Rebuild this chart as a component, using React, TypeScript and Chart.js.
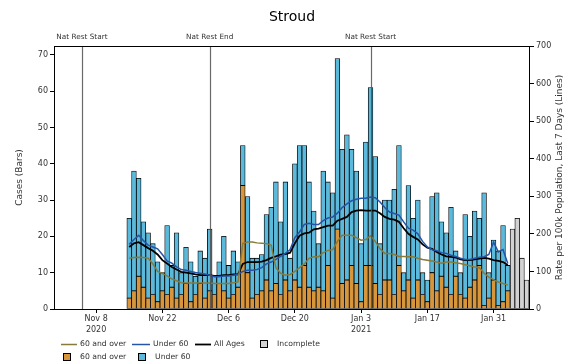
import React, { useEffect, useRef } from 'react';
import { Chart, registerables } from 'chart.js';

Chart.register(...registerables);

const TITLE = 'Stroud';
const LEFT_TITLE = 'Cases (Bars)';
const RIGHT_TITLE = 'Rate per 100k Population, Last 7 Days (Lines)';

const dates: string[] = [
  '2020-11-15', '2020-11-16', '2020-11-17', '2020-11-18', '2020-11-19', '2020-11-20', '2020-11-21', '2020-11-22',
  '2020-11-23', '2020-11-24', '2020-11-25', '2020-11-26', '2020-11-27', '2020-11-28', '2020-11-29', '2020-11-30',
  '2020-12-01', '2020-12-02', '2020-12-03', '2020-12-04', '2020-12-05', '2020-12-06', '2020-12-07', '2020-12-08',
  '2020-12-09', '2020-12-10', '2020-12-11', '2020-12-12', '2020-12-13', '2020-12-14', '2020-12-15', '2020-12-16',
  '2020-12-17', '2020-12-18', '2020-12-19', '2020-12-20', '2020-12-21', '2020-12-22', '2020-12-23', '2020-12-24',
  '2020-12-25', '2020-12-26', '2020-12-27', '2020-12-28', '2020-12-29', '2020-12-30', '2020-12-31',
  '2021-01-01', '2021-01-02', '2021-01-03', '2021-01-04', '2021-01-05', '2021-01-06', '2021-01-07', '2021-01-08',
  '2021-01-09', '2021-01-10', '2021-01-11', '2021-01-12', '2021-01-13', '2021-01-14', '2021-01-15', '2021-01-16',
  '2021-01-17', '2021-01-18', '2021-01-19', '2021-01-20', '2021-01-21', '2021-01-22', '2021-01-23', '2021-01-24',
  '2021-01-25', '2021-01-26', '2021-01-27', '2021-01-28', '2021-01-29', '2021-01-30', '2021-01-31',
  '2021-02-01', '2021-02-02', '2021-02-03',
];

const incompleteDates: string[] = ['2021-02-04', '2021-02-05', '2021-02-06', '2021-02-07'];
const incompleteCases: number[] = [22, 25, 14, 8];

const casesOver60: number[] = [
  3, 5, 9, 6, 3, 4, 2, 5, 4, 6, 3, 4, 7, 2, 4, 7,
  3, 5, 4, 7, 5, 3, 4, 6, 34, 10, 3, 4, 5, 8, 5, 7, 4, 8, 5, 8, 6, 12, 6, 5, 6, 5, 12, 3, 22, 7, 8,
  12, 7, 2, 12, 12, 7, 4, 8, 8, 4, 12, 5, 8, 3, 8, 4, 2, 10, 5, 9, 6, 4, 9, 4, 3, 6, 8, 12, 1, 3, 8,
  1, 2, 5,
];

const casesUnder60: number[] = [
  22, 33, 27, 18, 18, 14, 11, 5, 19, 6, 18, 6, 10, 11, 5, 9,
  11, 17, 5, 6, 15, 9, 12, 7, 11, 21, 11, 10, 10, 18, 23, 28, 20, 27, 9, 32, 39, 33, 29, 22, 12, 33, 23, 29, 47, 37, 40,
  32, 31, 16, 34, 49, 35, 14, 22, 22, 29, 33, 5, 26, 22, 22, 6, 6, 21, 27, 15, 15, 24, 7, 6, 23, 14, 19, 13, 31, 7, 11,
  15, 21, 7,
];

const rateOver60: number[] = [
  135, 137, 138, 137, 135, 120, 100, 95, 88, 80, 75, 70, 69, 69, 69, 69,
  69, 69, 68, 68, 68, 68, 70, 72, 175, 178, 178, 176, 175, 174, 170, 110, 95, 90, 92, 100, 110, 120, 135, 139, 139, 150, 156, 158, 180, 196, 196,
  196, 190, 183, 185, 195, 180, 160, 148, 148, 145, 140, 140, 139, 139, 135, 132, 130, 128, 125, 122, 125, 125, 123, 121, 118, 115, 112, 110, 95, 85, 78,
  72, 68, 64,
];

const rateUnder60: number[] = [
  172, 185, 196, 182, 170, 165, 160, 145, 128, 122, 112, 105, 103, 100, 97, 95,
  93, 90, 86, 86, 88, 88, 90, 92, 100, 103, 103, 105, 110, 120, 125, 132, 140, 148, 158, 190, 205, 225, 228, 225, 225, 235, 242, 245, 255, 270, 280,
  288, 292, 295, 295, 298, 296, 285, 270, 258, 254, 250, 232, 215, 210, 200, 180, 165, 158, 155, 150, 148, 143, 140, 135, 132, 132, 135, 138, 139, 145, 178,
  152, 158, 121,
];

const rateAll: number[] = [
  165, 175, 178, 170, 162, 155, 145, 130, 121, 112, 105, 99, 97, 95, 92, 90,
  90, 90, 88, 88, 90, 90, 92, 92, 120, 125, 125, 125, 126, 130, 136, 140, 145, 146, 150, 175, 195, 201, 203, 212, 214, 218, 222, 222, 235, 240, 245,
  258, 262, 263, 262, 262, 262, 255, 245, 240, 238, 232, 215, 200, 192, 185, 172, 163, 160, 152, 145, 140, 139, 137, 132, 130, 130, 132, 134, 136, 134, 130,
  128, 125, 117,
];

const tickDates: string[] = ['2020-11-08', '2020-11-22', '2020-12-06', '2020-12-20', '2021-01-03', '2021-01-17', '2021-01-31'];
const tickLabels: (string | string[])[] = [['Nov 8', '2020'], 'Nov 22', 'Dec 6', 'Dec 20', ['Jan 3', '2021'], 'Jan 17', 'Jan 31'];

const leftTicks: number[] = [0, 10, 20, 30, 40, 50, 60, 70];
const rightTicks: number[] = [0, 100, 200, 300, 400, 500, 600, 700];

const eventDates: string[] = ['2020-11-05', '2020-12-02', '2021-01-05'];
const eventLabels: string[] = ['Nat Rest Start', 'Nat Rest End', 'Nat Rest Start'];

const EPOCH = Date.UTC(2020, 10, 5);
const dayNum = (s: string) => {
  const [y, m, d] = s.split('-').map(Number);
  return (Date.UTC(y, m - 1, d) - EPOCH) / 86400000;
};

const FONT = '"DejaVu Sans", sans-serif';
const ORANGE = '#d8963c';
const BLUE_BAR = '#5bb9db';
const GREY_BAR = '#d2d2d2';
const OLIVE = '#877b3c';
const BLUE_LINE = '#2455a8';
const TEXT = '#333333';

export default function App() {
  const ref = useRef<HTMLCanvasElement>(null);

  useEffect(() => {
    const canvas = ref.current;
    if (!canvas) return;
    const xs = dates.map(dayNum);
    const xi = incompleteDates.map(dayNum);
    const pts = (vals: number[], x: number[]) => vals.map((v, i) => ({ x: x[i], y: v }));

    const overlay = {
      id: 'overlay',
      afterDatasetsDraw(chart: any) {
        const { ctx, chartArea } = chart;
        const xScale = chart.scales.x;
        ctx.save();
        ctx.strokeStyle = 'rgba(80,80,80,0.85)';
        ctx.lineWidth = 1.2;
        eventDates.forEach((d) => {
          const px = Math.round(xScale.getPixelForValue(dayNum(d))) + 0.5;
          ctx.beginPath();
          ctx.moveTo(px, chartArea.top);
          ctx.lineTo(px, chartArea.bottom);
          ctx.stroke();
        });
        ctx.strokeStyle = '#000';
        ctx.lineWidth = 1;
        ctx.strokeRect(chartArea.left + 0.5, chartArea.top + 0.5, chartArea.right - chartArea.left - 1, chartArea.bottom - chartArea.top);
        ctx.restore();
      },
      afterDraw(chart: any) {
        const { ctx, chartArea } = chart;
        const xScale = chart.scales.x;
        ctx.save();
        ctx.fillStyle = '#000';
        ctx.textAlign = 'center';
        ctx.textBaseline = 'middle';
        ctx.font = `14px ${FONT}`;
        ctx.fillText(TITLE, (chartArea.left + chartArea.right) / 2, 17);

        ctx.font = `7.3px ${FONT}`;
        ctx.fillStyle = TEXT;
        eventDates.forEach((d, i) => {
          const px = xScale.getPixelForValue(dayNum(d));
          ctx.fillText(eventLabels[i], px, 37);
        });

        const cy = (chartArea.top + chartArea.bottom) / 2;
        ctx.font = `9px ${FONT}`;
        ctx.save();
        ctx.translate(20, cy);
        ctx.rotate(-Math.PI / 2);
        ctx.fillText(LEFT_TITLE, 0, 0);
        ctx.restore();
        ctx.save();
        ctx.translate(560, cy);
        ctx.rotate(-Math.PI / 2);
        ctx.fillText(RIGHT_TITLE, 0, 0);
        ctx.restore();

        // legend
        ctx.font = `7.7px ${FONT}`;
        ctx.textAlign = 'left';
        const r1 = 344;
        const r2 = 357;
        const lineItem = (x0: number, x1: number, color: string, label: string, w: number, tx: number) => {
          ctx.strokeStyle = color;
          ctx.lineWidth = w;
          ctx.beginPath();
          ctx.moveTo(x0, r1 + 0.5);
          ctx.lineTo(x1, r1 + 0.5);
          ctx.stroke();
          ctx.fillStyle = TEXT;
          ctx.fillText(label, tx, r1);
        };
        const boxItem = (x0: number, y: number, color: string, label: string, tx: number) => {
          ctx.fillStyle = color;
          ctx.fillRect(x0, y - 4, 8, 8);
          ctx.strokeStyle = '#000';
          ctx.lineWidth = 1;
          ctx.strokeRect(x0 + 0.5, y - 3.5, 7, 7);
          ctx.fillStyle = TEXT;
          ctx.fillText(label, tx, y);
        };
        lineItem(61, 77, OLIVE, '60 and over', 1.5, 80);
        lineItem(132, 150, BLUE_LINE, 'Under 60', 1.5, 153);
        lineItem(195, 211, '#000', 'All Ages', 1.8, 214);
        boxItem(260, r1, GREY_BAR, 'Incomplete', 277);
        boxItem(63, r2, ORANGE, '60 and over', 80);
        boxItem(138, r2, BLUE_BAR, 'Under 60', 155);
        ctx.restore();
      },
    };

    const tickFont = { family: FONT, size: 8 };
    const barCommon = {
      type: 'bar' as const,
      yAxisID: 'y',
      stack: 'cases',
      borderColor: '#000',
      borderWidth: 0.8,
      borderSkipped: false,
      barPercentage: 1,
      categoryPercentage: 1,
      order: 2,
    };

    const chart = new Chart(canvas, {
      type: 'bar',
      data: {
        datasets: [
          { type: 'line', label: '60 and over', data: pts(rateOver60, xs), yAxisID: 'y2', borderColor: OLIVE, borderWidth: 1.5, pointRadius: 0, order: 0 },
          { type: 'line', label: 'Under 60', data: pts(rateUnder60, xs), yAxisID: 'y2', borderColor: BLUE_LINE, borderWidth: 1.5, pointRadius: 0, order: 0 },
          { type: 'line', label: 'All Ages', data: pts(rateAll, xs), yAxisID: 'y2', borderColor: '#000', borderWidth: 1.8, pointRadius: 0, order: 0 },
          { ...barCommon, label: '60 and over', data: pts(casesOver60, xs), backgroundColor: ORANGE },
          { ...barCommon, label: 'Under 60', data: pts(casesUnder60, xs), backgroundColor: BLUE_BAR },
          { ...barCommon, label: 'Incomplete', data: pts(incompleteCases, xi), backgroundColor: GREY_BAR },
        ] as any,
      },
      options: {
        responsive: false,
        animation: false,
        devicePixelRatio: 1,
        layout: { padding: { top: 46, left: 0, right: 0, bottom: 0 } },
        plugins: {
          legend: { display: false },
          tooltip: { enabled: false },
          title: { display: false },
        },
        scales: {
          x: {
            type: 'linear',
            offset: false,
            min: -5.9,
            max: 94.7,
            afterBuildTicks: (s: any) => {
              s.ticks = tickDates.map((d) => ({ value: dayNum(d) }));
            },
            afterFit: (s: any) => {
              s.height = 55;
            },
            ticks: {
              callback: (_v: any, i: number) => tickLabels[i],
              font: { ...tickFont, lineHeight: 1.3 },
              color: TEXT,
              padding: 1,
              maxRotation: 0,
              autoSkip: false,
            },
            grid: { offset: false, drawOnChartArea: false, drawTicks: true, tickLength: 4, tickColor: '#000' },
            border: { display: false },
          },
          y: {
            position: 'left',
            min: 0,
            max: 72.45,
            stacked: true,
            afterBuildTicks: (s: any) => {
              s.ticks = leftTicks.map((v) => ({ value: v }));
            },
            afterFit: (s: any) => {
              s.width = 54;
            },
            ticks: { font: tickFont, color: TEXT, padding: 2 },
            grid: { drawOnChartArea: false, drawTicks: true, tickLength: 4, tickColor: '#000' },
            border: { display: false },
          },
          y2: {
            position: 'right',
            min: 0,
            max: 700,
            afterBuildTicks: (s: any) => {
              s.ticks = rightTicks.map((v) => ({ value: v }));
            },
            afterFit: (s: any) => {
              s.width = 36;
            },
            ticks: { font: tickFont, color: TEXT, padding: 2 },
            grid: { drawOnChartArea: false, drawTicks: true, tickLength: 4, tickColor: '#000' },
            border: { display: false },
          },
        },
      } as any,
      plugins: [overlay],
    });

    return () => chart.destroy();
  }, []);

  return (
    <div style={{ position: 'fixed', left: 0, top: 0, width: 566, height: 364, background: '#fff' }}>
      <canvas ref={ref} width={566} height={364} style={{ display: 'block' }} />
    </div>
  );
}
